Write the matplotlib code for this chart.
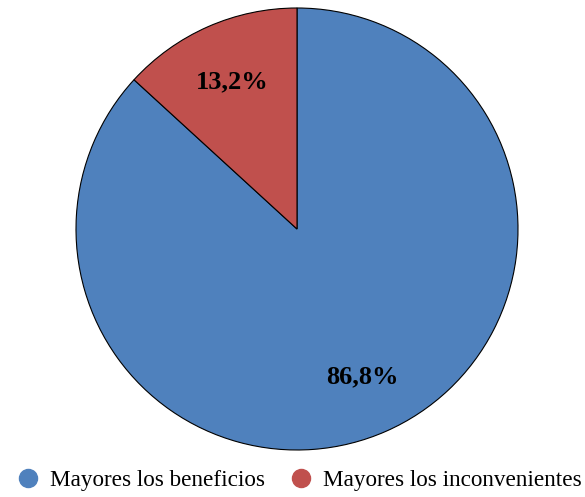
import numpy as np
import matplotlib.pyplot as plt
from matplotlib.lines import Line2D

labels = ['Mayores los beneficios', 'Mayores los inconvenientes']
values = [86.8, 13.2]
colors = ['#4F81BD', '#C0504D']

plt.rcParams['font.family'] = ['Liberation Serif', 'DejaVu Serif']

fig = plt.figure(figsize=(5.85, 4.97), dpi=100)
ax = fig.add_axes([76 / 585, 47 / 497, 442 / 585, 442 / 497])

wedges, texts = ax.pie(values, colors=colors, startangle=90, counterclock=False,
                       wedgeprops=dict(edgecolor='black', linewidth=0.8))
# percentage labels inside each slice, comma as decimal mark
for w, v in zip(wedges, values):
    ang = np.deg2rad((w.theta1 + w.theta2) / 2)
    ax.text(0.73 * np.cos(ang), 0.73 * np.sin(ang), f"{v:.1f}%".replace('.', ','),
            ha='center', va='center', fontsize=19, fontweight='bold')
ax.set_xlim(-1.0, 1.0)
ax.set_ylim(-1.0, 1.0)

handles = [Line2D([], [], marker='o', linestyle='', markersize=13,
                  markerfacecolor=c, markeredgecolor=c) for c in colors]
fig.legend(handles, labels, loc='lower center', bbox_to_anchor=(0.509, -0.03),
           ncol=2, frameon=False, fontsize=16.7, handletextpad=0.35,
           columnspacing=0.95, handlelength=1.2)

fig.savefig('out.png', dpi=100)
